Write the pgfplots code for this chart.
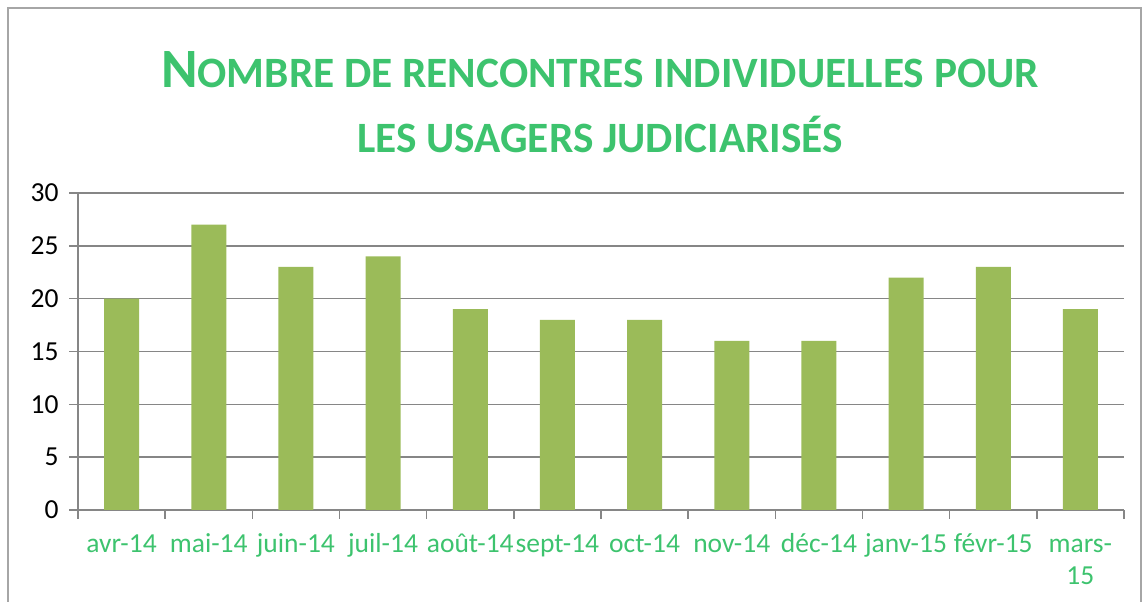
\documentclass[border=0pt]{standalone}
\usepackage{pgfplots}
\pgfplotsset{compat=1.18}
\usepackage{fontspec}
\setmainfont{Carlito}
\definecolor{bargreen}{RGB}{155,187,89}
\definecolor{titlegreen}{RGB}{61,195,110}
\definecolor{axisgray}{RGB}{134,134,134}
\begin{document}
\begin{tikzpicture}[x=1pt,y=1pt]
\useasboundingbox (0,0) rectangle (1143,602);
\draw[line width=1.2pt, color=gray!70] (8,-10) -- (8,594) -- (1141,594) -- (1141,-10);
\node[anchor=base, text=titlegreen, font=\bfseries] at (600,514)
  {\fontsize{55.5}{60}\selectfont N\fontsize{43.3}{50}\selectfont OMBRE DE RENCONTRES INDIVIDUELLES POUR};
\node[anchor=base, text=titlegreen, font=\bfseries] at (600,449)
  {\fontsize{43.3}{50}\selectfont LES USAGERS JUDICIARISÉS};
\begin{axis}[
  at={(78pt,92pt)}, anchor=south west,
  scale only axis, width=1046pt, height=317pt,
  ymin=0, ymax=30, ytick={0,5,...,30},
  xmin=-0.5, xmax=11.5,
  xtick={0,...,11},
  xticklabels={avr-14,mai-14,juin-14,juil-14,août-14,sept-14,oct-14,nov-14,déc-14,janv-15,févr-15,{\begin{tabular}[t]{@{}c@{}}mars-\\15\end{tabular}}},
  minor xtick={-0.5,0.5,...,11.5},
  major x tick style={draw=none},
  tick align=outside,
  minor tick length=9pt, major tick length=9pt,
  tick style={line width=1.6pt, color=axisgray},
  axis x line*=bottom, axis y line*=left,
  axis line style={line width=2pt, color=axisgray, -},
  ymajorgrids, grid style={line width=1.5pt, color=axisgray},
  /pgf/number format/assume math mode=true,
  yticklabel style={font=\fontsize{27.5}{30}\selectfont, text=black, xshift=-7pt},
  xticklabel style={font=\fontsize{27.5}{32}\selectfont, text=titlegreen, anchor=north, text height=19pt, yshift=-11pt},
  ybar, bar width=35pt,
  clip=false,
]
\addplot[fill=bargreen, draw=none] coordinates {
(0,20) (1,27) (2,23) (3,24) (4,19) (5,18) (6,18) (7,16) (8,16) (9,22) (10,23) (11,19)};
\end{axis}
\end{tikzpicture}
\end{document}
